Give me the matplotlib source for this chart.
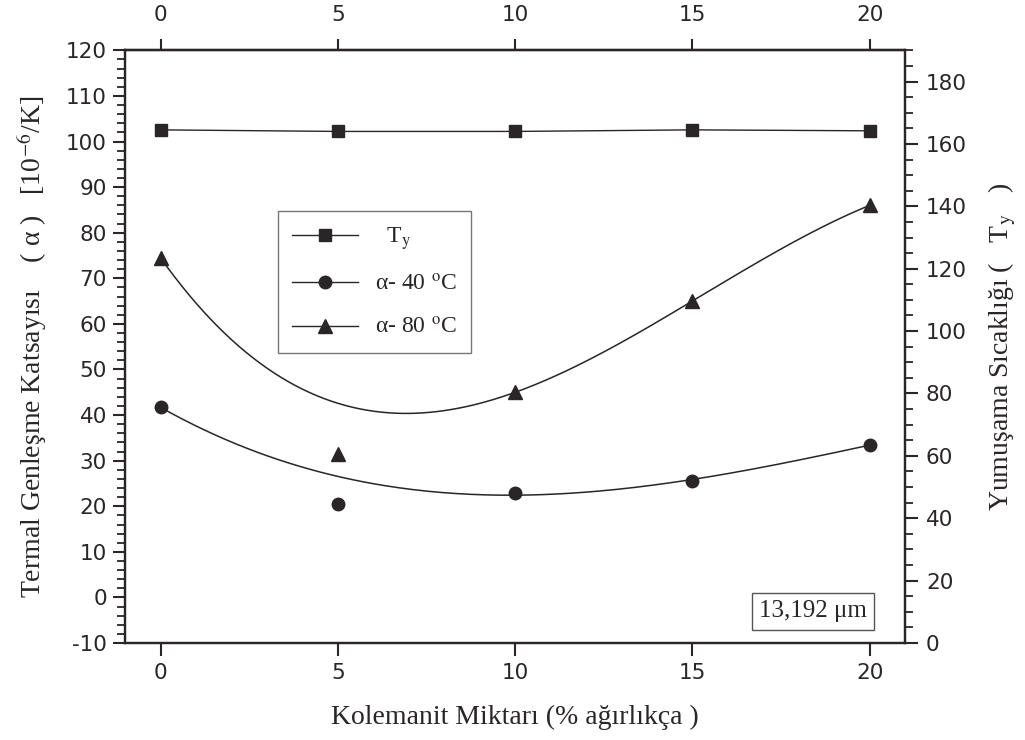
import numpy as np
import matplotlib
matplotlib.use("Agg")
import matplotlib.pyplot as plt
from matplotlib.lines import Line2D
from matplotlib.ticker import MultipleLocator

# ---- data ----
kolemanit = [0, 5, 10, 15, 20]                 # % ağırlıkça
ty_values = [164.5, 164.0, 164.0, 164.5, 164.2]  # Yumuşama sıcaklığı (right axis)
alpha40 = [41.8, 20.5, 23.0, 25.5, 33.5]       # 10^-6/K
alpha80 = [74.5, 31.5, 45.0, 65.0, 86.0]       # 10^-6/K
fit_w40 = [1, 0.25, 1, 1, 1]                   # weights of the cubic trend fits
fit_w80 = [1, 0.03, 1, 1, 1]
x_ticks = [0, 5, 10, 15, 20]
left_ticks = list(range(-10, 121, 10))
right_ticks = list(range(0, 181, 20))

ink = "#2a2526"
plt.rcParams["mathtext.fontset"] = "stix"
plt.rcParams["axes.unicode_minus"] = False
serif = ["Liberation Serif", "DejaVu Serif"]
sans = ["DejaVu Sans"]
tick_fs = 15.5

fig = plt.figure(figsize=(10.25, 7.4), dpi=100)
ax = fig.add_axes([0.122, 0.131, 0.761, 0.801])
ax2 = ax.twinx()

x = np.array(kolemanit, dtype=float)
xs = np.linspace(0, 20, 200)
c40 = np.polyfit(x, alpha40, 3, w=fit_w40)
c80 = np.polyfit(x, alpha80, 3, w=fit_w80)
ax.plot(xs, np.polyval(c40, xs), color=ink, lw=1.1)
ax.plot(xs, np.polyval(c80, xs), color=ink, lw=1.1)
ax.plot(x, alpha40, 'o', color=ink, ms=9, ls='none')
ax.plot(x, alpha80, '^', color=ink, ms=10, ls='none')
ax2.plot(x, ty_values, 's-', color=ink, ms=8.5, lw=1.0)

ax.set_xlim(-1, 21)
ax.set_ylim(-10, 120)
ax2.set_ylim(0, 190)
ax.set_xticks(x_ticks)
ax.set_yticks(left_ticks)
ax.yaxis.set_minor_locator(MultipleLocator(2))
ax2.set_yticks(right_ticks)
ax2.yaxis.set_minor_locator(MultipleLocator(5))

for a in (ax, ax2):
    for s in a.spines.values():
        s.set_linewidth(1.6)
        s.set_color(ink)

ax.tick_params(axis='x', which='major', direction='out', length=9, width=1.5,
               labelsize=tick_fs, colors=ink, pad=5)
ax.tick_params(axis='y', which='major', direction='out', length=9, width=1.5,
               labelsize=tick_fs, colors=ink, pad=4)
ax.tick_params(axis='y', which='minor', direction='out', length=6, width=1.3, colors=ink)
ax2.tick_params(axis='y', which='major', direction='out', length=9, width=1.5,
                labelsize=tick_fs, colors=ink, pad=6)
ax2.tick_params(axis='y', which='minor', direction='out', length=6, width=1.3, colors=ink)

top = ax.secondary_xaxis('top')
top.set_xticks(x_ticks)
top.tick_params(axis='x', direction='out', length=8, width=1.5, labelsize=tick_fs,
                colors=ink, pad=10)
top.spines['top'].set_linewidth(1.6)
top.spines['top'].set_color(ink)

for lab in (ax.get_xticklabels() + ax.get_yticklabels() + ax2.get_yticklabels()
            + top.get_xticklabels()):
    lab.set_family(sans)

ax.set_xlabel("Kolemanit Miktarı (% ağırlıkça )", family=serif, fontsize=20,
              color=ink, labelpad=16)
ax.set_ylabel("Termal Genleşme Katsayısı    ( α )   [10$^{-6}$/K]", family=serif,
              fontsize=20, color=ink, labelpad=12)
ax2.set_ylabel("Yumuşama Sıcaklığı (   T$_{\\mathrm{y}}$   )", family=serif,
               fontsize=20, color=ink, labelpad=14)

handles = [
    Line2D([], [], color=ink, marker='s', ms=8.5, lw=1.0),
    Line2D([], [], color=ink, marker='o', ms=9, lw=1.0),
    Line2D([], [], color=ink, marker='^', ms=10, lw=1.0),
]
labels = ["  T$_{\\mathrm{y}}$", "α- 40 $^{\\mathrm{o}}$C", "α- 80 $^{\\mathrm{o}}$C"]
leg = ax2.legend(handles, labels, loc='upper left', bbox_to_anchor=(0.196, 0.7285),
                 borderaxespad=0, frameon=True, fancybox=False, numpoints=1,
                 handlelength=2.8, handletextpad=0.7, labelspacing=0.93,
                 borderpad=0.6, prop={'family': serif, 'size': 17})
leg.get_frame().set_edgecolor("#555555")
leg.get_frame().set_linewidth(1.0)
for t in leg.get_texts():
    t.set_color(ink)

ax2.text(0.882, 0.054, "13,192 μm", transform=ax.transAxes, ha='center', va='center',
         family=serif, fontsize=18, color=ink,
         bbox=dict(boxstyle='square,pad=0.3', fc='white', ec='#555555', lw=1.0))

fig.savefig("out.png", dpi=100)
